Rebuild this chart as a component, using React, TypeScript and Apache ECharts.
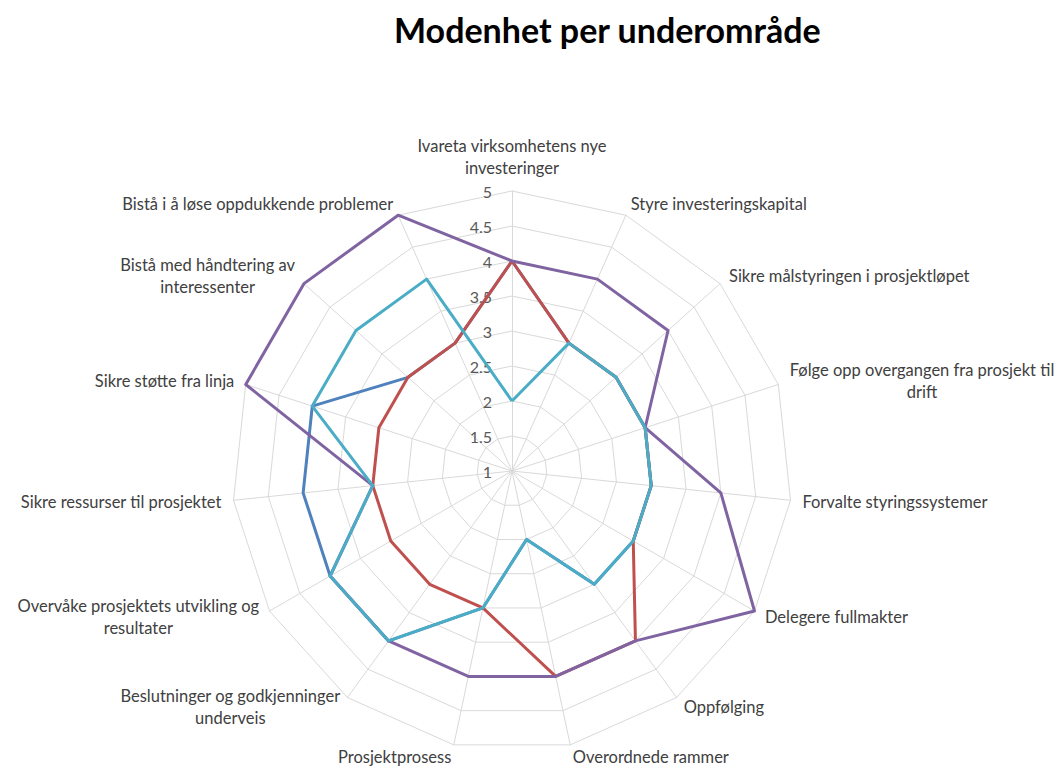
import React, { useEffect, useRef } from "react";
import * as echarts from "echarts";

const titleText = "Modenhet per underområde";

// Categories listed clockwise from the top
const categories = [
  "Ivareta virksomhetens nye\ninvesteringer",
  "Styre investeringskapital",
  "Sikre målstyringen i prosjektløpet",
  "Følge opp overgangen fra prosjekt til\ndrift",
  "Forvalte styringssystemer",
  "Delegere fullmakter",
  "Oppfølging",
  "Overordnede rammer",
  "Prosjektprosess",
  "Beslutninger og godkjenninger\nunderveis",
  "Overvåke prosjektets utvikling og\nresultater",
  "Sikre ressurser til prosjektet",
  "Sikre støtte fra linja",
  "Bistå med håndtering av\ninteressenter",
  "Bistå i å løse oppdukkende problemer",
];

const scaleMin = 1;
const scaleMax = 5;
const scaleSteps = 8;

const seriesBlue = [4, 3, 3, 3, 3, 3, 3, 2, 3, 4, 4, 4, 4, 3, 3];
const seriesRed = [4, 3, 3, 3, 3, 3, 4, 4, 3, 3, 3, 3, 3, 3, 3];
const seriesPurple = [4, 4, 4, 3, 4, 5, 4, 4, 4, 4, 4, 3, 5, 5, 5];
const seriesCyan = [2, 3, 3, 3, 3, 3, 3, 2, 3, 4, 4, 3, 4, 4, 4];

const seriesList = [
  { name: "Serie 1", values: seriesBlue, color: "#4F81BD" },
  { name: "Serie 2", values: seriesRed, color: "#C0504D" },
  { name: "Serie 3", values: seriesPurple, color: "#8064A2" },
  { name: "Serie 4", values: seriesCyan, color: "#4BACC6" },
];

const FONT = "Lato, 'Noto Sans', sans-serif";

// ECharts radar runs counter-clockwise; reorder so that the chart reads clockwise
function clockwise<T>(arr: T[]): T[] {
  return [arr[0], ...arr.slice(1).reverse()];
}

export default function App() {
  const ref = useRef<HTMLDivElement>(null);

  useEffect(() => {
    if (!ref.current) return;
    const chart = echarts.init(ref.current, null, { renderer: "svg" });
    const indicator = clockwise(categories).map((name, i) => {
      const ind: any = { name, min: scaleMin, max: scaleMax };
      if (i === 0) {
        ind.axisLabel = {
          show: true,
          color: "#595959",
          fontSize: 16,
          fontFamily: FONT,
          margin: 20,
        };
      }
      return ind;
    });
    chart.setOption({
      animation: false,
      backgroundColor: "#ffffff",
      title: {
        text: titleText,
        left: 394,
        top: 12,
        padding: 0,
        textStyle: {
          fontFamily: FONT,
          fontWeight: "bold",
          fontSize: 34,
          color: "#000000",
        },
      },
      radar: {
        center: [512, 471],
        radius: 280,
        startAngle: 90,
        shape: "polygon",
        splitNumber: scaleSteps,
        nameGap: 12,
        axisName: {
          color: "#404040",
          fontSize: 16.5,
          fontFamily: FONT,
          lineHeight: 22,
          formatter: (name: string) =>
            name
              .split("\n")
              .map((l) => "{c|" + l + "}")
              .join("\n"),
          rich: {
            c: {
              align: "center",
              color: "#404040",
              fontSize: 16.5,
              fontFamily: FONT,
              lineHeight: 22,
            },
          },
        },
        axisLabel: { show: false },
        axisTick: { show: false },
        axisLine: { lineStyle: { color: "#D9D9D9", width: 1 } },
        splitLine: { lineStyle: { color: "#D9D9D9", width: 1 } },
        splitArea: { show: false },
        indicator,
      },
      series: [
        {
          type: "radar",
          symbol: "none",
          data: seriesList.map((s) => ({
            name: s.name,
            value: clockwise(s.values),
            lineStyle: { color: s.color, width: 3 },
            itemStyle: { color: s.color },
          })),
        },
      ],
    });
    return () => chart.dispose();
  }, []);

  return (
    <div
      ref={ref}
      style={{ position: "fixed", left: 0, top: 0, width: 1060, height: 767 }}
    />
  );
}
